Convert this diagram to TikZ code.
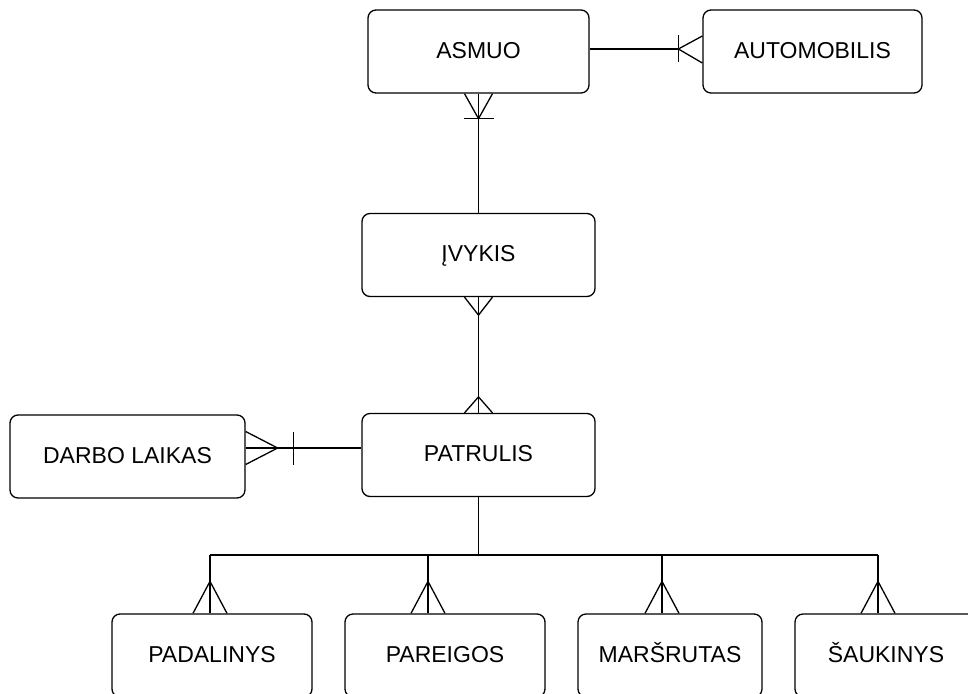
\documentclass[tikz,border=0pt]{standalone}
\usepackage{fontspec}
\setmainfont{Liberation Sans}
\usetikzlibrary{calc}
\begin{document}
\begin{tikzpicture}[x=1pt,y=-1pt,line width=1.3pt,
  entity/.style={draw,rectangle,rounded corners=8pt,minimum height=83pt,
    inner sep=0pt,text height=16.5pt,text depth=3pt,
    font=\fontsize{23}{27}\selectfont}]
\useasboundingbox (0,0) rectangle (968,693);
\clip (0,0) rectangle (968,693);

% entities
\node[entity,minimum width=221pt] (asmuo) at (478.5,51.5) {ASMUO};
\node[entity,minimum width=219pt] (auto) at (812.5,51.5) {AUTOMOBILIS};
\node[entity,minimum width=233pt] (ivykis) at (478.5,255) {ĮVYKIS};
\node[entity,minimum width=233pt] (patrulis) at (478.5,455) {PATRULIS};
\node[entity,minimum width=235pt] (darbo) at (127.5,456.5) {DARBO LAIKAS};
\node[entity,minimum width=200pt] (padalinys) at (212,655.5) {PADALINYS};
\node[entity,minimum width=200pt] (pareigos) at (445,655.5) {PAREIGOS};
\node[entity,minimum width=184pt] (marsrutas) at (670,655.5) {MARŠRUTAS};
\node[entity,minimum width=182pt] (saukinys) at (886,655.5) {ŠAUKINYS};

% ASMUO -- AUTOMOBILIS (one to many)
\coordinate (a1) at ($(asmuo.east)+(0,-2.5)$);
\coordinate (a2) at ($(auto.west)+(0,-2.5)$);
\draw (a1) -- ($(a2)+(-24,0)$);
\draw ($(a2)+(-24,-14)$) -- ($(a2)+(-24,13)$);
\draw ($(a2)+(0,-13)$) -- ($(a2)+(-24,0)$) -- ($(a2)+(0,14)$);

% ASMUO -- IVYKIS
\draw (asmuo.south) -- (ivykis.north);
\draw ($(asmuo.south)+(-14,0)$) -- ($(asmuo.south)+(0,25)$) -- ($(asmuo.south)+(14,0)$);
\draw ($(asmuo.south)+(-15,25)$) -- ($(asmuo.south)+(15,25)$);

% IVYKIS -- PATRULIS (many to many)
\draw (ivykis.south) -- (patrulis.north);
\draw ($(ivykis.south)+(-14,0)$) -- ($(ivykis.south)+(0,18)$) -- ($(ivykis.south)+(14,0)$);
\draw ($(patrulis.north)+(-14,0)$) -- ($(patrulis.north)+(0,-16)$) -- ($(patrulis.north)+(14,0)$);

% DARBO LAIKAS -- PATRULIS
\coordinate (d1) at ($(darbo.east)+(0,-8.5)$);
\draw (d1) -- (d1 -| patrulis.west);
\draw ($(d1)+(0,-16.5)$) -- ($(d1)+(32,0)$) -- ($(d1)+(0,16.5)$);
\draw ($(d1)+(48,-16.5)$) -- ($(d1)+(48,16.5)$);

% PATRULIS -- lower entities
\coordinate (bus) at ($(patrulis.south)+(0,58)$);
\draw (patrulis.south) -- (bus);
\coordinate (b1) at (210,555);
\coordinate (b2) at (428,555);
\coordinate (b3) at (662,555);
\coordinate (b4) at (878,555);
\draw (b1) -- (b4);
\foreach \b/\n in {b1/padalinys,b2/pareigos,b3/marsrutas,b4/saukinys}{
  \draw (\b) -- (\b |- \n.north);
  \draw ($(\b |- \n.north)+(-17,0)$) -- ($(\b |- \n.north)+(0,-32)$) -- ($(\b |- \n.north)+(17,0)$);
}
\end{tikzpicture}
\end{document}
